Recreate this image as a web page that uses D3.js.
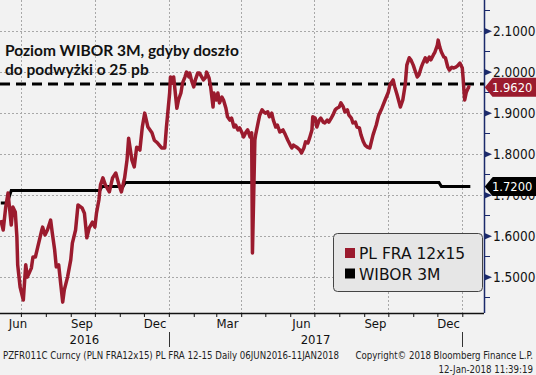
<!DOCTYPE html>
<html>
<head>
<meta charset="utf-8">
<script src="https://cdn.jsdelivr.net/npm/d3@7"></script>
<style>
  html, body { margin: 0; padding: 0; background: #f2f2f2; }
  svg { display: block; }
</style>
</head>
<body>
<div id="wrapper"></div>
<script>
// PL FRA 12x15
const fraDates = [
  "2016-06-06","2016-06-09","2016-06-12","2016-06-15","2016-06-19","2016-06-21","2016-06-24","2016-06-26","2016-06-27","2016-06-30",
  "2016-07-03","2016-07-04","2016-07-07","2016-07-09","2016-07-14","2016-07-16","2016-07-19","2016-07-22","2016-07-27","2016-07-28",
  "2016-07-31","2016-08-03","2016-08-07","2016-08-09","2016-08-12","2016-08-14","2016-08-17","2016-08-19","2016-08-22","2016-08-24",
  "2016-08-28","2016-09-01","2016-09-03","2016-09-07","2016-09-10","2016-09-15","2016-09-18","2016-09-21","2016-09-24","2016-09-28",
  "2016-10-01","2016-10-03","2016-10-06","2016-10-08","2016-10-11","2016-10-14","2016-10-19","2016-10-23","2016-10-27","2016-10-31",
  "2016-11-03","2016-11-07","2016-11-10","2016-11-12","2016-11-16","2016-11-19","2016-11-22","2016-11-26","2016-11-29","2016-12-02",
  "2016-12-06","2016-12-11","2016-12-14","2016-12-18","2016-12-23","2016-12-27","2016-12-29","2017-01-02","2017-01-03","2017-01-05",
  "2017-01-07","2017-01-11","2017-01-13","2017-01-16","2017-01-18","2017-01-21","2017-01-23","2017-01-26","2017-01-27","2017-01-29",
  "2017-02-01","2017-02-03","2017-02-06","2017-02-08","2017-02-11","2017-02-13","2017-02-16","2017-02-17","2017-02-20","2017-02-22",
  "2017-02-25","2017-02-26","2017-03-01","2017-03-03","2017-03-05","2017-03-08","2017-03-10","2017-03-13","2017-03-15","2017-03-18",
  "2017-03-20","2017-03-23","2017-03-25","2017-03-28","2017-03-30","2017-04-02","2017-04-04","2017-04-07","2017-04-09","2017-04-12",
  "2017-04-14","2017-04-15","2017-04-18","2017-04-19","2017-04-22","2017-04-24","2017-04-27","2017-04-29","2017-05-01","2017-05-04",
  "2017-05-06","2017-05-09","2017-05-11","2017-05-14","2017-05-16","2017-05-19","2017-05-23","2017-05-26","2017-05-29","2017-06-01",
  "2017-06-03","2017-06-05","2017-06-09","2017-06-13","2017-06-15","2017-06-18","2017-06-20","2017-06-23","2017-06-25","2017-06-28",
  "2017-06-29","2017-07-02","2017-07-04","2017-07-07","2017-07-09","2017-07-12","2017-07-14","2017-07-17","2017-07-19","2017-07-22",
  "2017-07-24","2017-07-27","2017-07-29","2017-08-01","2017-08-03","2017-08-06","2017-08-08","2017-08-11","2017-08-13","2017-08-16",
  "2017-08-18","2017-08-21","2017-08-23","2017-08-26","2017-08-28","2017-08-31","2017-09-02","2017-09-05","2017-09-08","2017-09-12",
  "2017-09-16","2017-09-19","2017-09-23","2017-09-27","2017-10-01","2017-10-03","2017-10-07","2017-10-09","2017-10-12","2017-10-16",
  "2017-10-19","2017-10-22","2017-10-24","2017-10-27","2017-10-29","2017-11-01","2017-11-03","2017-11-06","2017-11-08","2017-11-11",
  "2017-11-13","2017-11-16","2017-11-18","2017-11-21","2017-11-23","2017-11-26","2017-11-28","2017-12-01","2017-12-02","2017-12-04",
  "2017-12-06","2017-12-09","2017-12-11","2017-12-14","2017-12-16","2017-12-19","2017-12-21","2017-12-24","2017-12-26","2017-12-29",
  "2018-01-01","2018-01-02","2018-01-03","2018-01-04","2018-01-06","2018-01-09","2018-01-11"
];
const fraValues = [
  1.638,1.614,1.668,1.704,1.626,1.670,1.658,1.597,1.529,1.475,
  1.451,1.443,1.529,1.499,1.521,1.548,1.548,1.573,1.614,1.621,
  1.602,1.614,1.638,1.607,1.565,1.524,1.529,1.492,1.438,1.468,
  1.499,1.541,1.582,1.614,1.675,1.668,1.655,1.595,1.619,1.633,
  1.621,1.655,1.687,1.724,1.741,1.724,1.707,1.741,1.753,1.724,
  1.707,1.741,1.785,1.838,1.785,1.768,1.816,1.809,1.865,1.899,
  1.865,1.851,1.833,1.826,1.814,1.814,1.865,1.948,1.987,1.972,
  1.987,1.911,1.931,1.948,1.972,1.987,1.999,1.987,1.997,1.980,
  1.963,1.980,1.997,1.997,1.987,1.980,1.987,1.999,1.985,1.963,
  1.914,1.948,1.931,1.948,1.924,1.938,1.931,1.911,1.890,1.882,
  1.887,1.865,1.870,1.858,1.863,1.851,1.841,1.853,1.858,1.841,
  1.851,1.558,1.833,1.846,1.875,1.894,1.907,1.902,1.899,1.902,
  1.890,1.899,1.882,1.865,1.870,1.853,1.858,1.846,1.833,1.821,
  1.814,1.821,1.816,1.809,1.802,1.814,1.829,1.826,1.838,1.858,
  1.890,1.887,1.865,1.882,1.887,1.877,1.875,1.882,1.877,1.887,
  1.894,1.907,1.911,1.914,1.924,1.914,1.902,1.907,1.894,1.887,
  1.875,1.877,1.865,1.863,1.846,1.829,1.821,1.816,1.814,1.846,
  1.870,1.894,1.911,1.931,1.950,1.968,1.980,1.963,1.943,1.914,
  1.931,1.968,2.016,2.034,2.029,2.016,2.004,1.987,1.992,2.011,
  2.021,2.034,2.024,2.036,2.029,2.041,2.048,2.065,2.077,2.060,
  2.048,2.036,2.034,2.011,2.004,2.011,2.009,2.011,2.014,2.021,
  2.009,1.985,1.955,1.931,1.950,1.963,1.962
];

// WIBOR 3M
const wiborDates = ["2016-06-06","2016-06-14","2016-06-19","2016-10-07","2016-10-10","2016-11-05","2016-11-08","2017-12-03","2017-12-06","2018-01-11"];
const wiborValues = [1.68, 1.68, 1.71, 1.71, 1.72, 1.72, 1.73, 1.73, 1.72, 1.72];

const thresholdValue = 1.97;   // WIBOR 1.72 + 25 pb
const lastValues = [1.962, 1.72];
const lastLabels = ["1.9620", "1.7200"];

const yTicks = [1.5, 1.6, 1.7, 1.8, 1.9, 2.0, 2.1];
const yMinorTicks = [1.45, 1.55, 1.65, 1.75, 1.85, 1.95, 2.05, 2.15];
const monthLabels = ["Jun", "Sep", "Dec", "Mar", "Jun", "Sep", "Dec"];
const monthLabelDates = ["2016-06-15", "2016-09-15", "2016-12-15", "2017-03-15", "2017-06-15", "2017-09-15", "2017-12-15"];
const yearLabels = ["2016", "2017"];
const legendLabels = ["PL FRA 12x15", "WIBOR 3M"];
const noteLines = ["Poziom WIBOR 3M, gdyby doszło", "do podwyżki o 25 pb"];
const footerLeft = "PZFR011C Curncy (PLN FRA12x15) PL FRA 12-15  Daily 06JUN2016-11JAN2018";
const footerRight = ["Copyright\u00A9 2018 Bloomberg Finance L.P.", "12-Jan-2018 11:39:19"];

const red = "#9b1b2e";
const axisFont = "'DejaVu Sans Condensed', 'DejaVu Sans', sans-serif";

let dimensions = {
  width: 536,
  height: 375,
  plotRight: 484,
  plotBottom: 313,
}

const parseDate = d3.timeParse("%Y-%m-%d");
const fra = fraDates.map((d, i) => ({ date: parseDate(d), value: fraValues[i] }));
const wibor = wiborDates.map((d, i) => ({ date: parseDate(d), value: wiborValues[i] }));

const wrapper = d3.select("#wrapper")
  .append("svg")
    .attr("width", dimensions.width)
    .attr("height", dimensions.height)
    .style("background", "#f2f2f2")

const xScale = d3.scaleTime()
  .domain([new Date(2016, 5, 5), new Date(2018, 0, 28)])
  .range([0, dimensions.plotRight])

const yScale = d3.scaleLinear()
  .domain([1.4115, 2.1749])
  .range([dimensions.plotBottom, 0])

// grid
const quarterStarts = d3.timeMonth.every(3).range(new Date(2016, 5, 5), new Date(2018, 0, 28))
wrapper.append("g")
  .selectAll("line")
  .data(quarterStarts)
  .join("line")
    .attr("x1", d => Math.round(xScale(d)) + 0.5)
    .attr("x2", d => Math.round(xScale(d)) + 0.5)
    .attr("y1", 0)
    .attr("y2", dimensions.plotBottom)
    .attr("stroke", "#a8a8a8")
    .attr("stroke-dasharray", "2,2")

wrapper.append("g")
  .selectAll("line")
  .data(yTicks)
  .join("line")
    .attr("x1", 0)
    .attr("x2", dimensions.plotRight)
    .attr("y1", d => Math.round(yScale(d)) + 0.5)
    .attr("y2", d => Math.round(yScale(d)) + 0.5)
    .attr("stroke", "#a8a8a8")
    .attr("stroke-dasharray", "2,2")

// note text
wrapper.append("g")
  .selectAll("text")
  .data(noteLines)
  .join("text")
    .attr("x", 5)
    .attr("y", (d, i) => 56 + i * 18.5)
    .attr("font-family", "Lato, sans-serif")
    .attr("font-weight", "bold")
    .attr("font-size", 15.5)
    .attr("fill", "#111")
    .text(d => d)

// threshold dashed line
wrapper.append("line")
  .attr("x1", 0)
  .attr("x2", dimensions.plotRight)
  .attr("y1", yScale(thresholdValue))
  .attr("y2", yScale(thresholdValue))
  .attr("stroke", "#000")
  .attr("stroke-width", 3)
  .attr("stroke-dasharray", "10,6")

const lineGenerator = d3.line()
  .x(d => xScale(d.date))
  .y(d => yScale(d.value))

wrapper.append("path")
  .attr("d", lineGenerator(wibor))
  .attr("fill", "none")
  .attr("stroke", "#000")
  .attr("stroke-width", 3)

wrapper.append("path")
  .attr("d", lineGenerator(fra))
  .attr("fill", "none")
  .attr("stroke", red)
  .attr("stroke-width", 3.5)
  .attr("stroke-linejoin", "round")

// legend
const legend = wrapper.append("g")
legend.append("rect")
  .attr("x", 333.5)
  .attr("y", 233.5)
  .attr("width", 149)
  .attr("height", 58)
  .attr("rx", 4)
  .attr("fill", "#e6e6e6")
  .attr("stroke", "#444")
const legendItems = legend.selectAll("g.item")
  .data(legendLabels)
  .join("g")
    .attr("class", "item")
    .attr("transform", (d, i) => `translate(345, ${248 + i * 20.5})`)
legendItems.append("rect")
  .attr("width", 10)
  .attr("height", 10)
  .attr("fill", (d, i) => i === 0 ? red : "#000")
legendItems.append("text")
  .attr("x", 14)
  .attr("y", 11)
  .attr("font-family", "'DejaVu Sans', sans-serif")
  .attr("font-size", 15.5)
  .attr("fill", "#111")
  .text(d => d)

// bottom axis
const xAxisGenerator = d3.axisBottom(xScale)
  .ticks(d3.timeMonth.every(1))
  .tickSize(4)
  .tickFormat("")
const xAxis = wrapper.append("g")
  .attr("transform", `translate(0, ${dimensions.plotBottom})`)
  .call(xAxisGenerator)
xAxis.select(".domain")
  .attr("d", `M0,0.5H${dimensions.plotRight}`)
  .attr("stroke", "#111")
  .attr("stroke-width", 1.5)
xAxis.selectAll(".tick line").attr("stroke", "#111")

wrapper.append("g")
  .selectAll("text")
  .data(monthLabels)
  .join("text")
    .attr("x", (d, i) => Math.max(18, xScale(parseDate(monthLabelDates[i]))))
    .attr("y", 328)
    .attr("text-anchor", "middle")
    .attr("font-family", axisFont)
    .attr("font-size", 13)
    .attr("fill", "#111")
    .text(d => d)

const yearBounds = [new Date(2016, 5, 5), new Date(2017, 0, 1), new Date(2018, 0, 1)]
wrapper.append("g")
  .selectAll("text")
  .data(yearLabels)
  .join("text")
    .attr("x", (d, i) => (xScale(yearBounds[i]) + xScale(yearBounds[i + 1])) / 2)
    .attr("y", 344)
    .attr("text-anchor", "middle")
    .attr("font-family", axisFont)
    .attr("font-size", 13)
    .attr("fill", "#111")
    .text(d => d)

wrapper.append("g")
  .selectAll("line")
  .data(yearBounds.slice(1))
  .join("line")
    .attr("x1", d => Math.round(xScale(d)) + 0.5)
    .attr("x2", d => Math.round(xScale(d)) + 0.5)
    .attr("y1", 332)
    .attr("y2", 347)
    .attr("stroke", "#333")

// right axis
const navy = "#1b2a6b"
wrapper.append("line")
  .attr("x1", dimensions.plotRight + 0.5)
  .attr("x2", dimensions.plotRight + 0.5)
  .attr("y1", 0)
  .attr("y2", dimensions.plotBottom)
  .attr("stroke", navy)
  .attr("stroke-width", 1.5)

wrapper.append("g")
  .selectAll("line")
  .data(yMinorTicks)
  .join("line")
    .attr("x1", dimensions.plotRight)
    .attr("x2", dimensions.plotRight + 6)
    .attr("y1", d => Math.round(yScale(d)) + 0.5)
    .attr("y2", d => Math.round(yScale(d)) + 0.5)
    .attr("stroke", navy)

const yAxisGenerator = d3.axisRight(yScale)
  .tickValues(yTicks)
  .tickFormat(d3.format(".4f"))
  .tickSize(0)
  .tickPadding(9)
const yAxis = wrapper.append("g")
  .attr("transform", `translate(${dimensions.plotRight}, 0)`)
  .call(yAxisGenerator)
yAxis.select(".domain").remove()
yAxis.selectAll(".tick text")
  .attr("font-family", axisFont)
  .attr("font-size", 13.5)
  .attr("fill", "#111")
yAxis.selectAll(".tick")
  .append("path")
    .attr("d", "M0,-3.5L8,0L0,3.5Z")
    .attr("fill", navy)

// last value boxes
const boxes = wrapper.append("g")
  .selectAll("g")
  .data(lastValues)
  .join("g")
    .attr("transform", d => `translate(0, ${yScale(d)})`)
boxes.append("path")
  .attr("d", "M486,0L493,-8.5H536V8.5H493Z")
  .attr("fill", (d, i) => i === 0 ? red : "#000")
  .attr("stroke", (d, i) => i === 0 ? red : "#000")
  .attr("stroke-linejoin", "round")
  .attr("stroke-width", 2)
boxes.append("text")
  .attr("x", 492)
  .attr("y", 0)
  .attr("dy", "0.36em")
  .attr("font-family", axisFont)
  .attr("font-size", 12.8)
  .attr("fill", "#fff")
  .text((d, i) => lastLabels[i])

// footer
wrapper.append("text")
  .attr("x", 3)
  .attr("y", 359)
  .attr("font-family", axisFont)
  .attr("font-size", 9.6)
  .attr("fill", "#222")
  .text(footerLeft)
wrapper.append("g")
  .selectAll("text")
  .data(footerRight)
  .join("text")
    .attr("x", 533)
    .attr("y", (d, i) => 359 + i * 14)
    .attr("text-anchor", "end")
    .attr("font-family", axisFont)
    .attr("font-size", 9.6)
    .attr("fill", "#222")
    .text(d => d)
</script>
</body>
</html>
